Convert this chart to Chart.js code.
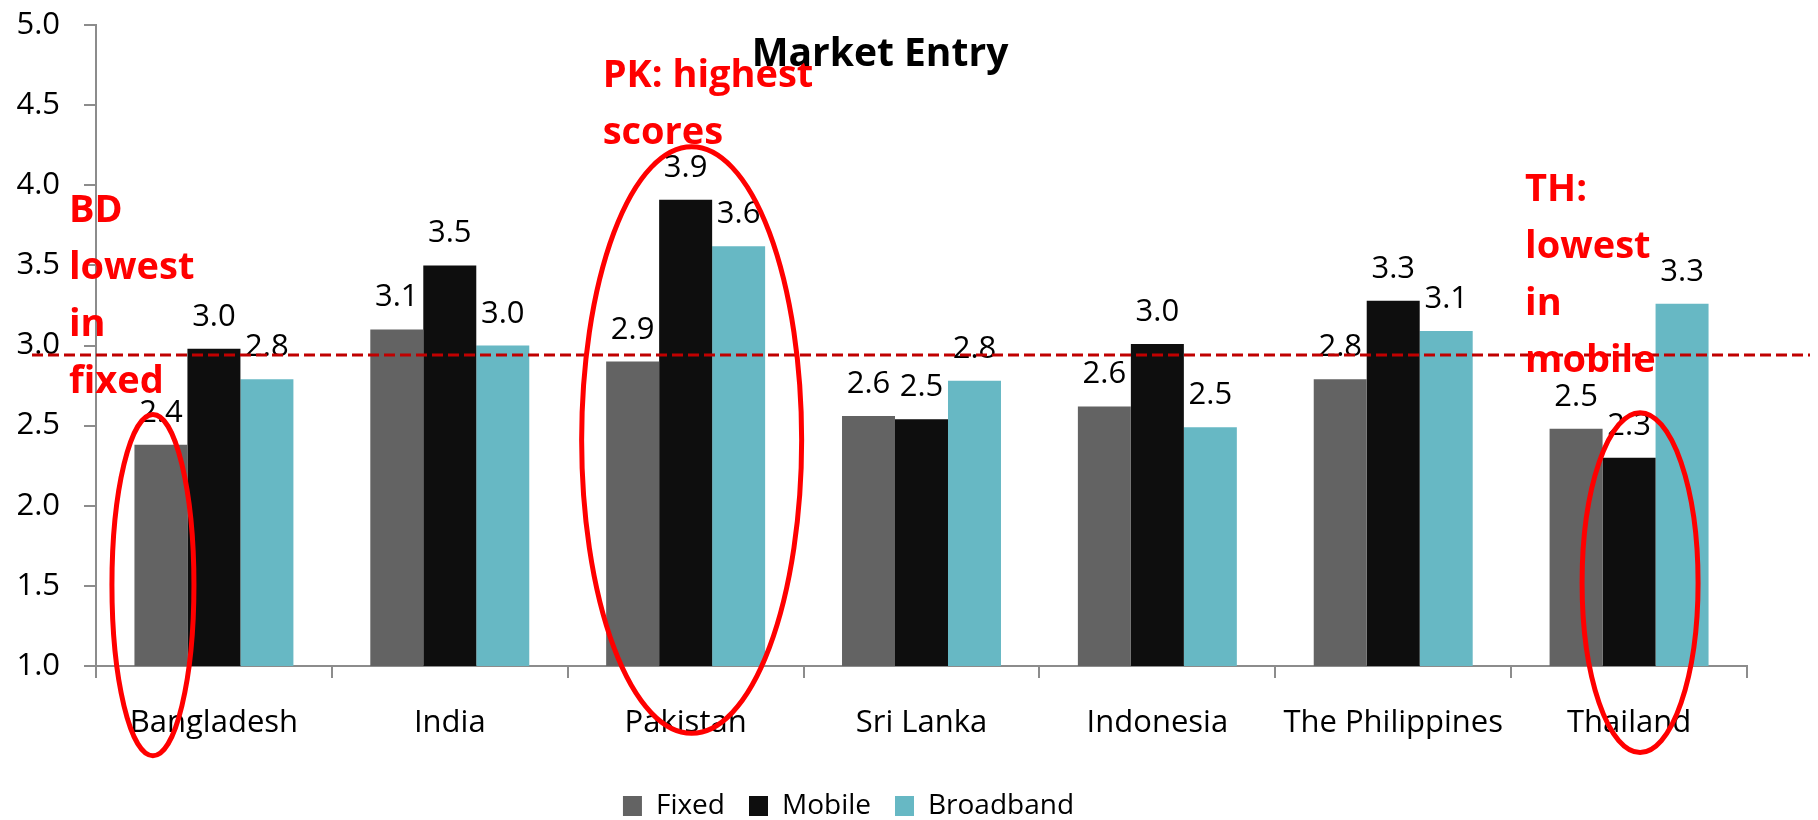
<!DOCTYPE html>
<html>
<head>
<meta charset="utf-8">
<script src="https://cdn.jsdelivr.net/npm/chart.js@4.4.1/dist/chart.umd.min.js"></script>
<style>
  html, body { margin: 0; padding: 0; background: #fff; }
</style>
</head>
<body>
<canvas id="grafico-mercado" width="1818" height="820"></canvas>
<script>
// categories and series
const countries = ['Bangladesh', 'India', 'Pakistan', 'Sri Lanka', 'Indonesia', 'The Philippines', 'Thailand'];
const fixed = [2.38, 3.10, 2.90, 2.56, 2.62, 2.79, 2.48];
const mobile = [2.98, 3.50, 3.91, 2.54, 3.01, 3.28, 2.30];
const broadband = [2.79, 3.00, 3.62, 2.78, 2.49, 3.09, 3.26];
const average = 2.94; // dashed red line
const yMin = 1.0, yMax = 5.0, yStep = 0.5;

// red call-outs: text anchored on a category, ellipses on a bar
const notes = [
  { lines: ['BD', 'lowest', 'in', 'fixed'], cat: 0, dx: -145, top: 3.77 },
  { lines: ['PK: highest', 'scores'], cat: 2, dx: -83, top: 4.61 },
  { lines: ['TH:', 'lowest', 'in', 'mobile'], cat: 6, dx: -104, top: 3.90 }
];
const rings = [
  { cat: 0, bar: 0, dx: -8, rx: 41, from: 2.57, to: 0.44 },
  { cat: 2, bar: 1, dx: 6, rx: 110, from: 4.24, to: 0.58 },
  { cat: 6, bar: 1, dx: 11, rx: 58, from: 2.58, to: 0.46 }
];

const FONT = '"Open Sans", "DejaVu Sans", sans-serif';
const axisGray = '#8c8c8c';

const extras = {
  id: 'extras',
  afterLayout(chart) {
    // legend in the original sits a little left of centre
    chart.legend.left -= 25;
    chart.legend.right -= 25;
  },
  afterDatasetsDraw(chart) {
    const ctx = chart.ctx;
    const y = chart.scales.y;
    const x = chart.scales.x;

    // value labels over the bars
    ctx.save();
    ctx.font = '31px ' + FONT;
    ctx.fillStyle = '#000';
    ctx.textAlign = 'center';
    ctx.textBaseline = 'alphabetic';
    chart.data.datasets.forEach((ds, i) => {
      chart.getDatasetMeta(i).data.forEach((bar, j) => {
        ctx.fillText(ds.data[j].toFixed(1), bar.x, bar.y - 23);
      });
    });
    ctx.restore();

    // average line
    ctx.save();
    const ya = y.getPixelForValue(average);
    ctx.strokeStyle = '#c00000';
    ctx.lineWidth = 3;
    ctx.setLineDash([11, 5]);
    ctx.beginPath();
    ctx.moveTo(32, ya);
    ctx.lineTo(chart.width - 8, ya);
    ctx.stroke();
    ctx.restore();

    // ellipses
    ctx.save();
    ctx.strokeStyle = '#ff0000';
    ctx.lineWidth = 5;
    rings.forEach(r => {
      const bx = chart.getDatasetMeta(r.bar).data[r.cat].x + r.dx;
      const y1 = y.getPixelForValue(r.from), y2 = y.getPixelForValue(r.to);
      ctx.beginPath();
      ctx.ellipse(bx, (y1 + y2) / 2, r.rx, Math.abs(y2 - y1) / 2, 0, 0, Math.PI * 2);
      ctx.stroke();
    });
    ctx.restore();

    // call-out text
    ctx.save();
    ctx.font = 'bold 38px ' + FONT;
    ctx.fillStyle = '#ff0000';
    ctx.textAlign = 'left';
    ctx.textBaseline = 'alphabetic';
    notes.forEach(n => {
      const left = x.getPixelForValue(n.cat) + n.dx;
      const base = y.getPixelForValue(n.top);
      n.lines.forEach((t, k) => ctx.fillText(t, left, base + k * 57));
    });
    ctx.restore();

    // title sits inside the plot, as in the original
    ctx.save();
    ctx.font = 'bold 39px ' + FONT;
    ctx.fillStyle = '#000';
    ctx.textAlign = 'center';
    ctx.fillText('Market Entry', chart.width / 2 - 29, 55);
    ctx.restore();
  }
};

new Chart(document.getElementById('grafico-mercado'), {
  type: 'bar',
  data: {
    labels: countries,
    datasets: [
      { label: 'Fixed', data: fixed, backgroundColor: '#636363' },
      { label: 'Mobile', data: mobile, backgroundColor: '#0e0e0e' },
      { label: 'Broadband', data: broadband, backgroundColor: '#67b8c4' }
    ]
  },
  options: {
    responsive: false,
    animation: false,
    datasets: {
      bar: { categoryPercentage: 0.674, barPercentage: 1.0 }
    },
    layout: { padding: { left: 0, right: 71, top: 25, bottom: -10 } },
    plugins: {
      title: { display: false },
      tooltip: { enabled: false },
      legend: {
        position: 'bottom',
        labels: {
          boxWidth: 19,
          boxHeight: 20,
          padding: 24,
          color: '#000',
          font: { family: FONT, size: 28 }
        }
      }
    },
    scales: {
      x: {
        grid: { display: true, drawOnChartArea: false, offset: true, color: axisGray, tickLength: 12, lineWidth: 2 },
        border: { color: axisGray, width: 2 },
        ticks: { color: '#000', padding: 27, font: { family: FONT, size: 31 }, maxRotation: 0 },
        afterFit(scale) { scale.height = 102; }
      },
      y: {
        min: yMin,
        max: yMax,
        grid: { display: true, drawOnChartArea: false, color: axisGray, tickLength: 12, lineWidth: 2 },
        border: { color: axisGray, width: 2 },
        ticks: {
          stepSize: yStep,
          color: '#000',
          padding: 24,
          font: { family: FONT, size: 31 },
          callback: v => Number(v).toFixed(1)
        },
        afterFit(scale) {
          scale.width = 96;
          scale.paddingTop = 0;
          scale.paddingBottom = 0;
        }
      }
    }
  },
  plugins: [extras]
});
</script>
</body>
</html>
